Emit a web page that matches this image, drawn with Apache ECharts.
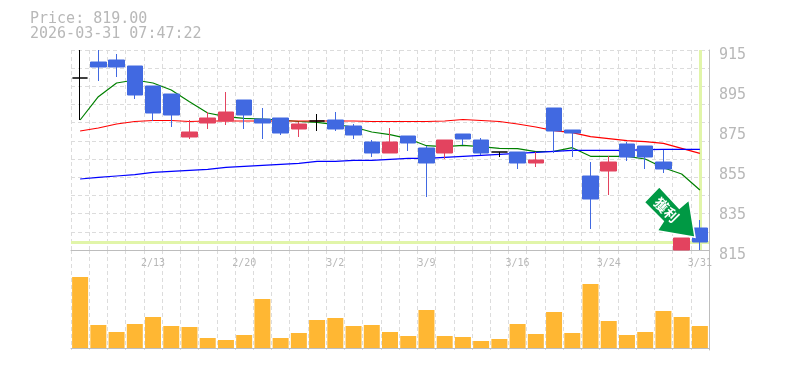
<!DOCTYPE html>
<html><head><meta charset="utf-8">
<style>html,body{margin:0;padding:0;background:#fff}#c{width:785px;height:370px}</style>
<script src="https://cdn.jsdelivr.net/npm/echarts@6/dist/echarts.min.js"></script>
</head><body><div id="c"></div>
<script>
const dates=['2/6','2/9','2/10','2/12','2/13','2/16','2/17','2/18','2/19','2/20','2/24','2/25','2/26','2/27','3/2','3/3','3/4','3/5','3/6','3/9','3/10','3/11','3/12','3/13','3/16','3/17','3/18','3/19','3/23','3/24','3/25','3/26','3/27','3/30','3/31'];
const opens=[901,909,910,907,897,893,871.5,878.5,879.5,890,880.5,881,875.5,879.5,880,877,869,863.5,872,866,863.5,873,870,864,864,858.5,886,875,852,854.5,868,867,859,815,826];
const closes=[901,906.5,906.5,892.5,883.5,882.5,874,881,884,882.5,878.5,873.5,878,879.5,875.5,872.5,863.5,869,868.5,858.5,870,870.5,863.5,864,858.5,860,874.5,873.5,840.5,859,861.5,861.5,855.5,821,819];
const lows=[880,899.5,901.5,890.5,879.5,876.5,870.5,875.5,877.5,875.5,870.5,872.5,871.5,874.5,874.5,870.5,861.5,863.5,864.5,841.5,860.5,867.5,862.5,861.5,855.5,856.5,863.5,861.5,825.5,842.5,859.5,855.5,853.5,815,815];
const highs=[915,915,913,907,897,893,880,884,894,890,886,881,879,883,884,878,870,876,872,867,870,873,871,864,864,864,886,875,859,862,869,867,865,821,830];
const maShort=[880,891.65,898.5,900,898.5,895,889.15,883.5,881.65,880.85,880.5,880,879.25,878.85,877.65,876.5,874,872.65,870.65,867.15,866.65,867.35,866.65,865.85,865.65,864.15,864.35,866.15,861.85,861.85,861.85,860.5,856.15,853,845];
const maMid=[874.5,876,878,879.25,879.75,879.75,879.25,879.5,879.5,879.5,879.5,879.5,879.5,879.5,879.5,879.5,879.25,879.25,879.25,879.25,879.5,880.25,879.75,879.25,878,876.5,874.65,873.65,871.65,870.65,869.65,869.15,868.35,865.85,863.35];
const maLong=[850.5,851.35,852,852.65,853.85,854.35,854.85,855.35,856.35,856.85,857.35,857.85,858.35,859.35,859.35,859.85,859.85,860.35,860.85,860.85,861.35,861.85,862.35,862.85,863.35,863.85,864.35,864.85,864.85,864.85,864.85,865.15,865.35,865.35,865.35];
const volumes=[71,23,16,24,31,22,21,10,8,13,49,10,15,28,30,22,23,16,12,38,12,11,7,9,24,14,36,15,64,27,13,16,37,31,22];
const lastPrice=819;

const grey='#bdbdbd', dash='#dcdcdc', mono='"DejaVu Sans Mono"', txt='#b8b8b8';
const split={show:true,interval:0,lineStyle:{color:dash,type:[4,3],width:1}};
const line=(name,data,color)=>({name,type:'line',data,symbol:'none',z:3,silent:true,lineStyle:{color,width:1.2}});
const chart=echarts.init(document.getElementById('c'),null,{renderer:'canvas'});
chart.setOption({
  animation:false,
  backgroundColor:'#fff',
  title:{text:'Price: '+lastPrice.toFixed(2)+'\n2026-03-31 07:47:22',left:30,top:12,padding:0,
    textStyle:{fontFamily:mono,fontSize:15,fontWeight:'normal',color:txt,lineHeight:15}},
  grid:[{left:71,right:76,top:50,height:200},{left:71,right:76,top:250,height:100}],
  xAxis:[
    {type:'category',gridIndex:0,data:dates,boundaryGap:true,axisTick:{show:false},
     axisLine:{lineStyle:{color:grey,width:1}},splitLine:split,
     axisLabel:{interval:i=>i%5===4,margin:8,fontFamily:mono,fontSize:10,color:txt,hideOverlap:false,showMaxLabel:true}},
    {type:'category',gridIndex:1,data:dates,boundaryGap:true,axisTick:{show:false},
     axisLine:{lineStyle:{color:grey,width:1}},splitLine:split,axisLabel:{show:false}}
  ],
  yAxis:[
    {type:'value',gridIndex:0,position:'right',min:815,max:915,interval:20,
     axisLine:{show:true,lineStyle:{color:grey}},axisTick:{show:false},splitLine:{show:false},
     axisLabel:{margin:10,fontFamily:mono,fontSize:15,color:txt,verticalAlign:'top',lineHeight:10}},
    {type:'value',gridIndex:0,min:0,max:11,interval:1,axisLine:{show:false},axisTick:{show:false},axisLabel:{show:false},
     splitLine:{show:true,lineStyle:{color:dash,type:[4,3],width:1}}},
    {type:'value',gridIndex:1,position:'right',min:-2,max:98,axisLine:{show:true,lineStyle:{color:grey}},
     axisTick:{show:false},axisLabel:{show:false},splitLine:{show:false}}
  ],
  series:[
    {name:'price',type:'line',data:[],z:2,silent:true,symbol:'none',
     markLine:{silent:true,symbol:'none',label:{show:false},animation:false,z:2,
       lineStyle:{color:'#e1f5a9',width:3,type:'solid'},
       data:[{xAxis:dates[dates.length-1]},{yAxis:lastPrice}]}},
    line('MA short',maShort,'#008000'),
    line('MA mid',maMid,'#ff0000'),
    line('MA long',maLong,'#0000ff'),
    {name:'candles',type:'candlestick',z:4,barWidth:16,silent:true,
     data:dates.map((d,i)=>[opens[i],closes[i],lows[i],highs[i]]),
     itemStyle:{color:'#e3435f',color0:'#4169e1',borderColor:'#e3435f',borderColor0:'#4169e1',borderColorDoji:'#000',borderWidth:1}},
    {name:'volume',type:'bar',xAxisIndex:1,yAxisIndex:2,data:volumes,barWidth:16,z:3,silent:true,
     itemStyle:{color:'#ffb733'}}
  ],
  graphic:[
    {type:'polygon',z:100,shape:{points:[[644.3,202.3],[659.3,186.7],[679.3,208.3],[689,200],[695,237.3],[657.3,230.7],[663.3,221.3]]},
     style:{fill:'#009944',stroke:'#fff',lineWidth:1.5}},
    {type:'text',z:101,x:666.5,y:210,rotation:-Math.PI/4,
     style:{text:'獲利',fill:'#fff',font:'bold 14px "Noto Sans CJK TC"',align:'center',verticalAlign:'middle'}}
  ]
});
</script></body></html>
